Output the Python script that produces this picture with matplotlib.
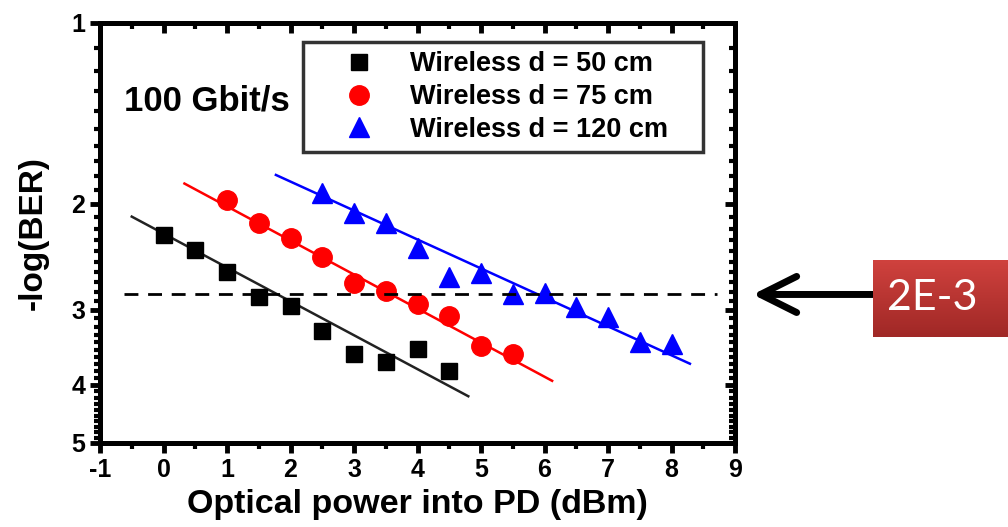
import numpy as np
import matplotlib
matplotlib.use("Agg")
import matplotlib.pyplot as plt
from matplotlib.ticker import FixedLocator, FixedFormatter, NullFormatter

plt.rcParams['font.family'] = ['Liberation Sans', 'DejaVu Sans']
plt.rcParams['axes.unicode_minus'] = False

# data
x_50 = [0, 0.5, 1, 1.5, 2, 2.5, 3, 3.5, 4, 4.5]
ber_50 = [2.25, 2.39, 2.60, 2.86, 2.96, 3.25, 3.55, 3.67, 3.49, 3.79]
fit_x_50 = [-0.5, 4.8]
fit_y_50 = [2.10, 4.18]

x_75 = [1, 1.5, 2, 2.5, 3, 3.5, 4, 4.5, 5, 5.5]
ber_75 = [1.97, 2.15, 2.28, 2.45, 2.71, 2.79, 2.93, 3.07, 3.45, 3.56]
fit_x_75 = [0.33, 6.12]
fit_y_75 = [1.85, 3.94]

x_120 = [2.5, 3, 3.5, 4, 4.5, 5, 5.5, 6, 6.5, 7, 7.5, 8]
ber_120 = [1.92, 2.07, 2.15, 2.37, 2.65, 2.61, 2.83, 2.81, 2.97, 3.09, 3.40, 3.42]
fit_x_120 = [1.77, 8.29]
fit_y_120 = [1.79, 3.69]

threshold = 2.83
thr_x = [-0.62, 8.72]

xticks = list(range(-1, 10))
yticks = [1, 2, 3, 4, 5]
yminor = [v / 10 for v in range(11, 50) if v % 10 != 0]

fig = plt.figure(figsize=(10.08, 5.27), dpi=100)
ax = fig.add_axes([100 / 1008, 1 - 443 / 527, 635 / 1008, 420 / 527])

ax.plot(fit_x_50, fit_y_50, color='#222222', lw=1.8)
ax.plot(fit_x_75, fit_y_75, color='red', lw=1.8)
ax.plot(fit_x_120, fit_y_120, color='blue', lw=1.8)
ax.plot(x_50, ber_50, 's', color='black', ms=11, label='Wireless d = 50 cm')
ax.plot(x_75, ber_75, 'o', color='red', ms=14, label='Wireless d = 75 cm')
ax.plot(x_120, ber_120, '^', color='blue', ms=15, label='Wireless d = 120 cm')
ax.plot(thr_x, [threshold, threshold], color='black', lw=2, dashes=(5, 3.5))

ax.set_yscale('log')
ax.set_ylim(5, 1)
ax.set_xlim(-1, 9)

def style_y(a, labels):
    a.yaxis.set_major_locator(FixedLocator(yticks))
    a.yaxis.set_minor_locator(FixedLocator(yminor))
    if labels:
        a.yaxis.set_major_formatter(FixedFormatter([str(t) for t in yticks]))
    else:
        a.yaxis.set_major_formatter(NullFormatter())
    a.yaxis.set_minor_formatter(NullFormatter())

style_y(ax, True)
ax.set_xticks(xticks)
ax.set_xticks(np.arange(-0.5, 9, 1.0), minor=True)
ax.tick_params(which='major', direction='out', length=7, width=3.5,
               labelsize=18, top=False, right=False)
ax.tick_params(which='minor', direction='out', length=4.5, width=3,
               top=False, right=False)
for lab in ax.get_xticklabels() + ax.get_yticklabels():
    lab.set_fontweight('bold')

# mirrored inward ticks on top and right
ax_r = ax.twinx()
ax_r.set_yscale('log')
ax_r.set_ylim(5, 1)
style_y(ax_r, False)
ax_r.tick_params(which='major', direction='in', length=7, width=3.5)
ax_r.tick_params(which='minor', direction='in', length=4.5, width=3)
ax_t = ax.twiny()
ax_t.set_xlim(-1, 9)
ax_t.set_xticks(xticks)
ax_t.set_xticks(np.arange(-0.5, 9, 1.0), minor=True)
ax_t.set_xticklabels([])
ax_t.tick_params(which='major', direction='in', length=7, width=3.5)
ax_t.tick_params(which='minor', direction='in', length=4.5, width=3)

for a in (ax, ax_r, ax_t):
    for s in a.spines.values():
        s.set_linewidth(3.5)

ax.set_xlabel('Optical power into PD (dBm)', fontsize=24.5, fontweight='bold', labelpad=5)
ax.set_ylabel('-log(BER)', fontsize=24, fontweight='bold', labelpad=16)

ax.text(-0.62, 1.35, '100 Gbit/s', fontsize=25, fontweight='bold', va='center', ha='left')

leg = ax.legend(loc='upper left', bbox_to_anchor=(0.32, 0.69, 0.63, 0.265), mode='expand',
                borderaxespad=0, prop={'size': 19.5, 'weight': 'bold'}, frameon=True,
                fancybox=False, edgecolor='black', handlelength=3.4, handletextpad=0.2,
                borderpad=0.35, labelspacing=0.25, markerscale=1.0)
leg.get_frame().set_linewidth(2.5)

# 2E-3 callout
ax.annotate('', xy=(1.028, threshold), xycoords=('axes fraction', 'data'),
            xytext=(1.217, threshold), textcoords=('axes fraction', 'data'),
            arrowprops=dict(arrowstyle='->, head_length=1.3, head_width=0.65',
                            mutation_scale=20, lw=5, color='black',
                            capstyle='round', joinstyle='round', shrinkA=0, shrinkB=0),
            annotation_clip=False)
box = fig.add_axes([873 / 1008, 1 - 337 / 527, 135 / 1008, 77 / 527])
grad = np.linspace(0, 1, 64)[:, None]
top_c = np.array([208, 66, 62]) / 255
bot_c = np.array([160, 40, 38]) / 255
img = top_c[None, None, :] * (1 - grad[:, :, None]) + bot_c[None, None, :] * grad[:, :, None]
box.imshow(img, aspect='auto', extent=(0, 1, 0, 1))
box.set_axis_off()
box.text(0.44, 0.5, '2E-3', color='white', fontsize=31, family=['Lato', 'DejaVu Sans'],
         ha='center', va='center', transform=box.transAxes)

fig.savefig('out.png', dpi=100)
